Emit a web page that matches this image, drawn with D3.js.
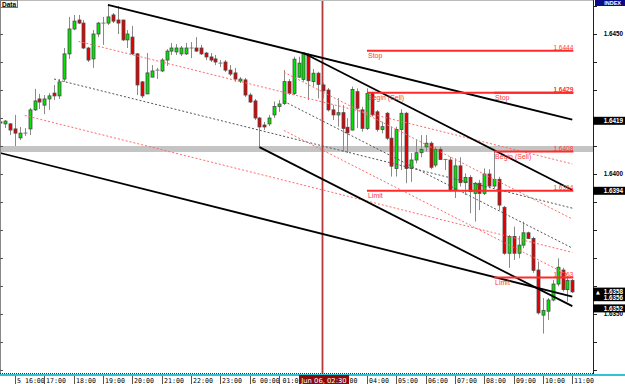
<!DOCTYPE html>
<html><head><meta charset="utf-8">
<script src="https://cdn.jsdelivr.net/npm/d3@7"></script>
<style>html,body{margin:0;padding:0;background:#fff;overflow:hidden}</style>
</head><body><svg id="c" width="625" height="384"></svg>
<script>
// ---------- DATA ----------
const firstBar = "2009-06-05 15:30";
const barMinutes = 10;
const opens  = [1.64186,1.64179,1.64179,1.64161,1.64129,1.64146,1.64161,1.64229,1.64268,1.64246,1.64268,1.64289,1.64279,1.64339,1.64429,1.64518,1.64550,1.64539,1.64450,1.64411,1.64500,1.64539,1.64539,1.64568,1.64550,1.64550,1.64479,1.64489,1.64429,1.64329,1.64286,1.64346,1.64371,1.64368,1.64407,1.64439,1.64436,1.64429,1.64429,1.64450,1.64450,1.64450,1.64432,1.64418,1.64411,1.64396,1.64400,1.64371,1.64361,1.64332,1.64336,1.64282,1.64261,1.64200,1.64175,1.64179,1.64211,1.64241,1.64252,1.64330,1.64288,1.64346,1.64338,1.64425,1.64330,1.64360,1.64318,1.64300,1.64229,1.64211,1.64219,1.64167,1.64157,1.64294,1.64229,1.64163,1.64288,1.64222,1.64159,1.64217,1.64128,1.64020,1.64159,1.64217,1.64020,1.64050,1.64076,1.64097,1.64110,1.64032,1.64088,1.64052,1.64050,1.63943,1.64029,1.63969,1.63988,1.63931,1.63967,1.63931,1.64000,1.63957,1.63981,1.63881,1.63717,1.63777,1.63717,1.63746,1.63790,1.63770,1.63657,1.63496,1.63510,1.63550,1.63607,1.63657,1.63587,1.63620];
const highs  = [1.64200,1.64193,1.64182,1.64211,1.64168,1.64164,1.64236,1.64304,1.64286,1.64282,1.64289,1.64318,1.64339,1.64450,1.64561,1.64568,1.64568,1.64550,1.64454,1.64514,1.64543,1.64561,1.64604,1.64575,1.64600,1.64550,1.64514,1.64529,1.64432,1.64332,1.64432,1.64389,1.64379,1.64414,1.64446,1.64468,1.64464,1.64457,1.64468,1.64471,1.64489,1.64461,1.64436,1.64432,1.64425,1.64407,1.64407,1.64389,1.64379,1.64346,1.64343,1.64289,1.64268,1.64204,1.64186,1.64211,1.64259,1.64264,1.64371,1.64339,1.64419,1.64419,1.64433,1.64431,1.64375,1.64365,1.64326,1.64307,1.64246,1.64271,1.64246,1.64200,1.64312,1.64306,1.64240,1.64306,1.64294,1.64229,1.64187,1.64222,1.64169,1.64169,1.64231,1.64222,1.64075,1.64121,1.64139,1.64139,1.64116,1.64097,1.64097,1.64054,1.64061,1.64056,1.64060,1.64002,1.63996,1.63972,1.63979,1.64020,1.64017,1.64080,1.63990,1.63886,1.63782,1.63812,1.63779,1.63830,1.63794,1.63776,1.63687,1.63557,1.63557,1.63621,1.63699,1.63665,1.63635,1.63625];
const lows   = [1.64175,1.64164,1.64139,1.64100,1.64121,1.64136,1.64139,1.64225,1.64232,1.64214,1.64229,1.64264,1.64268,1.64329,1.64411,1.64514,1.64536,1.64446,1.64400,1.64379,1.64489,1.64461,1.64532,1.64539,1.64500,1.64475,1.64450,1.64425,1.64282,1.64271,1.64286,1.64346,1.64339,1.64364,1.64386,1.64425,1.64425,1.64421,1.64425,1.64414,1.64436,1.64425,1.64407,1.64400,1.64389,1.64382,1.64364,1.64350,1.64329,1.64325,1.64275,1.64254,1.64193,1.64096,1.64157,1.64171,1.64200,1.64222,1.64246,1.64282,1.64282,1.64343,1.64330,1.64264,1.64312,1.64270,1.64270,1.64223,1.64193,1.64169,1.64080,1.64075,1.64155,1.64164,1.64151,1.64157,1.64205,1.64151,1.64145,1.64121,1.63991,1.63991,1.64014,1.63967,1.63972,1.64038,1.64060,1.64080,1.64017,1.64024,1.64050,1.64014,1.63937,1.63914,1.63955,1.63925,1.63860,1.63830,1.63871,1.63925,1.63949,1.63949,1.63871,1.63711,1.63665,1.63693,1.63699,1.63735,1.63768,1.63647,1.63498,1.63430,1.63479,1.63545,1.63599,1.63580,1.63544,1.63575];
const closes = [1.64182,1.64189,1.64157,1.64146,1.64146,1.64146,1.64229,1.64261,1.64257,1.64268,1.64279,1.64279,1.64329,1.64429,1.64518,1.64546,1.64539,1.64450,1.64407,1.64500,1.64539,1.64539,1.64561,1.64546,1.64539,1.64479,1.64500,1.64429,1.64318,1.64279,1.64361,1.64368,1.64371,1.64407,1.64439,1.64450,1.64450,1.64450,1.64450,1.64450,1.64439,1.64429,1.64418,1.64407,1.64400,1.64396,1.64371,1.64357,1.64339,1.64339,1.64282,1.64257,1.64200,1.64168,1.64168,1.64200,1.64241,1.64250,1.64330,1.64288,1.64410,1.64396,1.64429,1.64333,1.64360,1.64320,1.64297,1.64229,1.64211,1.64219,1.64163,1.64147,1.64302,1.64235,1.64163,1.64288,1.64211,1.64159,1.64169,1.64128,1.64028,1.64159,1.64217,1.64020,1.64050,1.64076,1.64088,1.64110,1.64024,1.64088,1.64052,1.64052,1.63943,1.64029,1.63969,1.63988,1.63937,1.63967,1.63931,1.64000,1.63957,1.63981,1.63889,1.63717,1.63777,1.63717,1.63746,1.63790,1.63770,1.63656,1.63504,1.63513,1.63550,1.63607,1.63667,1.63587,1.63620,1.63579];

// time axis
const hourTicks  = ["2009-06-05 16:00","2009-06-05 17:00","2009-06-05 18:00","2009-06-05 19:00","2009-06-05 20:00","2009-06-05 21:00","2009-06-05 22:00","2009-06-05 23:00","2009-06-06 00:00","2009-06-06 01:00","2009-06-06 02:00","2009-06-06 03:00","2009-06-06 04:00","2009-06-06 05:00","2009-06-06 06:00","2009-06-06 07:00","2009-06-06 08:00","2009-06-06 09:00","2009-06-06 10:00","2009-06-06 11:00"];
const hourLabels = ["5 16:00","17:00","18:00","19:00","20:00","21:00","22:00","23:00","6 00:00","01:00","02:00","03:00","04:00","05:00","06:00","07:00","08:00","09:00","10:00","11:00"];
const priceTicks  = [1.6460,1.6450,1.6440,1.6430,1.6420,1.6410,1.6400,1.6390,1.6380,1.6370,1.6360,1.6350,1.6340,1.6330];
const priceLabels = [1.6450,1.6400,1.6350];

// drawn trend lines: start (time, price) -> end (time, price)
const trendStarts  = ["2009-06-05 19:10","2009-06-05 15:30","2009-06-06 01:50","2009-06-06 00:20"];
const trendStartPx = [1.64604,1.64075,1.64432,1.64096];
const trendEnds    = ["2009-06-06 11:00","2009-06-06 11:00","2009-06-06 11:00","2009-06-06 11:00"];
const trendEndPx   = [1.64194,1.63562,1.63943,1.63528];
// channel inner lines between trend pairs (0,1) and (2,3)
const channelPairs     = [[0,1],[2,3]];
const channelFractions = [0.25,0.5,0.75];
const channelStarts    = [["2009-06-05 18:10","2009-06-05 17:20","2009-06-05 16:20"],
                          ["2009-06-06 01:10","2009-06-06 01:10","2009-06-06 01:10"]];

// order lines
const orderPrices = [1.6444,1.6429,1.6394,1.6408,1.6429,1.6363];
const orderStarts = ["2009-06-06 04:00","2009-06-06 04:00","2009-06-06 04:00","2009-06-06 08:20","2009-06-06 08:20","2009-06-06 08:20"];
const orderNames  = ["Stop","Begin (Sell)","Limit","Begin (Sell)","Stop","Limit"];
const orderEnd    = "2009-06-06 11:00";
const bandPrice   = 1.64089;

const cursorTime  = "2009-06-06 02:30";
const cursorLabel = "Jun 06, 02:30";
const markerValues = [1.6419,1.6394,1.6358,1.6356,1.6352];

// ---------- DRAW ----------
const parse = d3.timeParse("%Y-%m-%d %H:%M");
const svg = d3.select("#c");
const plotR = 593, plotB = 374;
const x = d3.scaleTime().domain([parse("2009-06-05 16:00"), parse("2009-06-06 11:00")]).range([15, 572.3]);
const y = d3.scaleLinear().domain([1.6450, 1.6400]).range([34, 174]);
const t0 = parse(firstBar);
const bars = opens.map((o,i)=>({t:d3.timeMinute.offset(t0, barMinutes*i), o, h:highs[i], l:lows[i], c:closes[i]}));
const fmt = d3.format(".4f");

svg.append("rect").attr("width",625).attr("height",384).attr("fill","#fff");
const defs = svg.append("defs");
defs.append("clipPath").attr("id","clip").append("rect").attr("width",plotR).attr("height",plotB);
const plot = svg.append("g").attr("clip-path","url(#clip)");

// gray band
plot.append("line").attr("x1",0).attr("x2",plotR).attr("y1",y(bandPrice)).attr("y2",y(bandPrice))
  .attr("stroke","#c4c4c4").attr("stroke-width",6);

// cursor line
const cx = Math.round(x(parse(cursorTime)))-0.5;
plot.append("line").attr("x1",cx).attr("x2",cx).attr("y1",0).attr("y2",plotB)
  .attr("stroke","#b03a3a").attr("stroke-width",1.8);

// candles
const cg = plot.append("g");
bars.forEach(b=>{
  const xc = Math.round(x(b.t)) + 0.5;
  cg.append("line").attr("x1",xc).attr("x2",xc).attr("y1",y(b.h)).attr("y2",y(b.l))
    .attr("stroke","#8a8a8a").attr("stroke-width",1);
  const top = y(Math.max(b.o,b.c)), bot = y(Math.min(b.o,b.c));
  if (b.o === b.c) {
    cg.append("line").attr("x1",xc-2).attr("x2",xc+2).attr("y1",top).attr("y2",top)
      .attr("stroke","#7a7a7a").attr("stroke-width",1);
  } else {
    cg.append("rect").attr("x",xc-1.5).attr("width",3).attr("y",top).attr("height",Math.max(1,bot-top))
      .attr("fill", b.c>b.o ? "#00e400" : "#e40000").attr("stroke","#4a4a4a").attr("stroke-width",0.8);
  }
});

// trend line helpers
const tl = trendStarts.map((s,i)=>({t1:parse(s),p1:trendStartPx[i],t2:parse(trendEnds[i]),p2:trendEndPx[i]}));
const priceAt = (L,t)=> L.p1 + (L.p2-L.p1)*((t-L.t1)/(L.t2-L.t1));

// channel inner lines
channelPairs.forEach((pair,ci)=>{
  const A = tl[pair[0]], B = tl[pair[1]];
  channelFractions.forEach((f,fi)=>{
    const ts = parse(channelStarts[ci][fi]), te = parse(orderEnd);
    const p1 = priceAt(A,ts) + f*(priceAt(B,ts)-priceAt(A,ts));
    const p2 = priceAt(A,te) + f*(priceAt(B,te)-priceAt(A,te));
    plot.append("line").attr("x1",x(ts)).attr("y1",y(p1)).attr("x2",x(te)).attr("y2",y(p2))
      .attr("stroke", f===0.5 ? "#555" : "#ff6a6a").attr("stroke-width",1)
      .attr("stroke-dasharray","2,2");
  });
});

// trend lines
tl.forEach(L=>{
  plot.append("line").attr("x1",x(L.t1)).attr("y1",y(L.p1)).attr("x2",x(L.t2)).attr("y2",y(L.p2))
    .attr("stroke","#000").attr("stroke-width",1.8);
});

// order lines
orderPrices.forEach((p,i)=>{
  const xs = x(parse(orderStarts[i])), xe = x(parse(orderEnd))+1;
  plot.append("line").attr("x1",xs).attr("x2",xe).attr("y1",y(p)).attr("y2",y(p))
    .attr("stroke","#ff2a2a").attr("stroke-width",2);
  plot.append("text").attr("x",xs+1).attr("y",y(p)+7).text(orderNames[i])
    .attr("font-family","Liberation Sans, Arial, sans-serif").attr("font-size",7).attr("fill","#ff3a3a");
  plot.append("text").attr("x",xe).attr("y",y(p)-0.8).attr("text-anchor","end").text(fmt(p))
    .attr("font-family","Liberation Sans, Arial, sans-serif").attr("font-size",6.5).attr("fill","#ff3a3a");
});

// frame
svg.append("line").attr("x1",0.5).attr("x2",0.5).attr("y1",0).attr("y2",plotB).attr("stroke","#888");
svg.append("line").attr("x1",0).attr("x2",plotR).attr("y1",0.5).attr("y2",0.5).attr("stroke","#bbb");
priceTicks.forEach(p=>{
  svg.append("line").attr("x1",0).attr("x2",3).attr("y1",Math.round(y(p))+0.5).attr("y2",Math.round(y(p))+0.5).attr("stroke","#555");
});

// bottom axis
svg.append("line").attr("x1",0).attr("x2",plotR).attr("y1",plotB-0.5).attr("y2",plotB-0.5)
  .attr("stroke","#333").attr("stroke-dasharray","1,1");
svg.append("line").attr("x1",0).attr("x2",625).attr("y1",plotB+1).attr("y2",plotB+1)
  .attr("stroke","#2ec4d4").attr("stroke-width",2);
const cxl = x(parse(cursorTime));
const boxL = cxl-24, boxR = cxl+26;
// labels partly covered by the cursor tag are clipped to their visible part
const lc = defs.append("clipPath").attr("id","lblclip");
lc.append("rect").attr("x",0).attr("y",374).attr("width",boxL).attr("height",10);
lc.append("rect").attr("x",boxR).attr("y",374).attr("width",625-boxR).attr("height",10);
const lblG = svg.append("g").attr("clip-path","url(#lblclip)");
hourTicks.forEach((h,i)=>{
  const hx = Math.round(x(parse(h)))+0.5;
  if (hx > boxL && hx + 20 < boxR) return; // fully hidden under the cursor tag
  lblG.append("line").attr("x1",hx).attr("x2",hx).attr("y1",376).attr("y2",384).attr("stroke","#555");
  const covered = (hx < boxL && hx + 21 > boxL) || (hx < boxR && hx + 21 > boxR);
  const t = lblG.append("text").attr("y",382.5)
    .attr("font-family","DejaVu Sans Mono, monospace").attr("font-size",6.6).attr("fill","#000");
  if (covered && hx < boxL) { t.attr("x",boxL-0.5).attr("text-anchor","end").text(hourLabels[i].slice(0,4)); }
  else if (covered) { t.attr("x",boxR+0.5).text(hourLabels[i].slice(3)); }
  else { t.attr("x",hx+1.5).text(hourLabels[i]); }
});
svg.append("rect").attr("x",boxL).attr("y",375).attr("width",boxR-boxL).attr("height",9).attr("fill","#8b0a0a");
svg.append("text").attr("x",cxl+1).attr("y",382.5).attr("text-anchor","middle").text(cursorLabel)
  .attr("font-family","DejaVu Sans, sans-serif").attr("font-size",6.8).attr("fill","#fff");

// right axis
svg.append("rect").attr("x",plotR).attr("y",0).attr("width",625-plotR).attr("height",plotB).attr("fill","#fff");
svg.append("line").attr("x1",plotR+0.5).attr("x2",plotR+0.5).attr("y1",0).attr("y2",plotB).attr("stroke","#222");
priceTicks.forEach(p=>{
  const py = Math.round(y(p))+0.5;
  svg.append("line").attr("x1",plotR).attr("x2",plotR+4).attr("y1",py).attr("y2",py).attr("stroke","#222");
});
priceLabels.forEach(p=>{
  svg.append("text").attr("x",623).attr("y",y(p)+2.3).attr("text-anchor","end").text(fmt(p))
    .attr("font-family","Liberation Sans, Arial, sans-serif").attr("font-weight","bold").attr("font-size",6.3).attr("fill","#000");
});
markerValues.forEach(v=>{
  svg.append("rect").attr("x",plotR).attr("y",y(v)-4).attr("width",625-plotR).attr("height",8).attr("fill","#000");
});
markerValues.forEach(v=>{
  svg.append("text").attr("x",623).attr("y",y(v)+2.3).attr("text-anchor","end").text(fmt(v))
    .attr("font-family","Liberation Sans, Arial, sans-serif").attr("font-weight","bold").attr("font-size",6.3).attr("fill","#fff");
});
svg.append("text").attr("x",596).attr("y",y(markerValues[2])+2.2).text("▲")
  .attr("font-family","DejaVu Sans, sans-serif").attr("font-size",5).attr("fill","#fff");

// INDEX tag
svg.append("rect").attr("x",595).attr("y",0).attr("width",30).attr("height",6).attr("fill","#0a0a8a");
svg.append("text").attr("x",621).attr("y",5).attr("text-anchor","end").text("INDEX")
  .attr("font-family","Liberation Sans, Arial, sans-serif").attr("font-weight","bold").attr("font-size",5.5).attr("fill","#fff");

// Data tag
svg.append("rect").attr("x",0.5).attr("y",0.5).attr("width",17).attr("height",7).attr("fill","#f4f4f4").attr("stroke","#777");
svg.append("text").attr("x",2).attr("y",6.5).text("Data")
  .attr("font-family","Liberation Sans, Arial, sans-serif").attr("font-weight","bold").attr("font-size",6.5).attr("fill","#000");
</script>
</body></html>
